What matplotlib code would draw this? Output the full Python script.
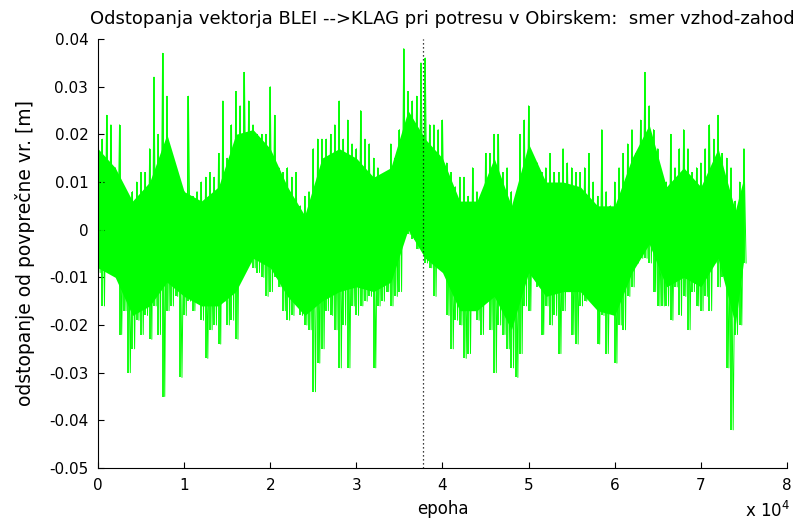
"""
Odstopanja vektorja BLEI -> KLAG (vzhod-zahod), graf po epohah
"""

import numpy as np
import matplotlib
matplotlib.use('Agg')
import matplotlib.pyplot as plt

# epohe vzorcev (vsakih 500 epoh) ter zgornja/spodnja ovojnica odstopanj v mm
epoha = np.arange(0, 75001, 500)
zgoraj_mm = [26, 19, 24, 22, 13, 22, 7, 6, 8, 10,
             12, 12, 17, 32, 20, 37, 28, 15, 10, 9,
             8, 28, 7, 8, 10, 11, 12, 11, 16, 27,
             15, 22, 29, 26, 33, 27, 22, 20, 20, 20,
             30, 24, 13, 12, 13, 11, 12, 5, 7, 8,
             17, 19, 19, 19, 20, 22, 27, 19, 23, 18,
             17, 25, 19, 18, 15, 13, 10, 9, 18, 15,
             21, 38, 29, 27, 28, 35, 36, 22, 22, 21,
             23, 14, 12, 9, 11, 11, 7, 13, 8, 7,
             16, 16, 20, 20, 12, 13, 8, 7, 20, 23,
             26, 15, 14, 12, 13, 16, 12, 12, 17, 14,
             13, 12, 12, 13, 16, 10, 7, 21, 8, 5,
             10, 13, 16, 18, 21, 16, 23, 33, 26, 21,
             17, 10, 10, 20, 13, 17, 21, 17, 12, 13,
             14, 17, 22, 19, 24, 16, 15, 13, 6, 10, 17]
spodaj_mm = [-9, -16, -8, -7, -10, -22, -17, -30, -25, -19,
             -22, -18, -23, -16, -22, -35, -17, -16, -14, -31,
             -18, -15, -17, -14, -19, -27, -21, -20, -24, -15,
             -20, -19, -23, -10, -8, -7, -8, -9, -10, -14,
             -13, -10, -12, -17, -19, -18, -14, -18, -20, -21,
             -34, -28, -25, -17, -18, -21, -29, -20, -29, -16,
             -18, -16, -15, -14, -29, -16, -15, -13, -16, -14,
             -13, -1, -1, -2, -4, 3, -7, -8, -14, -5,
             -8, -18, -25, -19, -20, -27, -26, -16, -19, -22,
             -13, -21, -30, -20, -22, -25, -29, -31, -26, -16,
             -17, -8, -12, -22, -16, -20, -18, -26, -17, -9,
             -22, -24, -16, -15, -14, -13, -24, -18, -26, -15,
             -28, -20, -21, -14, -12, -7, -6, -6, -7, -13,
             -16, -16, -16, -19, -12, -18, -14, -21, -13, -16,
             -17, -14, -17, -7, -12, -10, -29, -42, -22, -20, -7]

# gosto jedro signala (vsakih 2000 epoh), v mm
jedro_ep = [0, 2000, 4000, 6000, 8000, 10000, 12000, 14000, 16000, 18000,
            20000, 22000, 24000, 26000, 28000, 30000, 32000, 34000, 36000, 38000,
            40000, 42000, 44000, 46000, 48000, 50000, 52000, 54000, 56000, 58000,
            60000, 62000, 64000, 66000, 68000, 70000, 72000, 74000, 75000]
jedro_zg = [17, 13, 6, 10, 20, 8, 6, 9, 20, 21,
            17, 9, 3, 15, 17, 15, 11, 13, 25, 19,
            15, 6, 6, 15, 5, 18, 10, 10, 9, 5,
            5, 15, 22, 9, 13, 9, 17, 4, 11]
jedro_sp = [-8, -10, -18, -16, -11, -14, -16, -16, -13, -6,
            -8, -14, -18, -15, -13, -12, -13, -11, 0, -6,
            -9, -17, -17, -14, -21, -9, -14, -13, -13, -17,
            -18, -9, -3, -12, -10, -12, -6, -20, -6]

# epoha potresa (pikcasta navpicnica)
potres = 37750

xtick_val = [0, 10000, 20000, 30000, 40000, 50000, 60000, 70000, 80000]
xtick_lab = ['0', '1', '2', '3', '4', '5', '6', '7', '8']
ytick_val = [0.04, 0.03, 0.02, 0.01, 0.0, -0.01, -0.02, -0.03, -0.04, -0.05]
ytick_lab = ['0.04', '0.03', '0.02', '0.01', '0', '-0.01', '-0.02', '-0.03', '-0.04', '-0.05']

zg = np.array(zgoraj_mm) / 1000.
sp = np.array(spodaj_mm) / 1000.
# cik-cak med zgornjo in spodnjo vrednostjo
x_cc = np.column_stack([epoha, epoha + 250]).ravel()
y_cc = np.column_stack([zg, sp]).ravel()

plt.rcParams['font.family'] = 'DejaVu Sans'
fs = 11
plt.close('all')
fig = plt.figure(figsize=(8.02, 5.23), dpi=100)
ax = fig.add_axes([98/802, 1 - 468/523, (787 - 98)/802, (468 - 39)/523])

clr = '#00ff00'
ax.fill_between(jedro_ep, np.array(jedro_sp) / 1000., np.array(jedro_zg) / 1000.,
                color=clr, lw=0)
ax.plot(x_cc, y_cc, color=clr, lw=0.7)
ax.vlines(epoha, sp, zg, color=clr, lw=1.3)
ax.plot([potres, potres], [-0.05, 0.04], color='k', lw=0.9, linestyle=(0, (1, 2.2)))

ax.set_xlim(0, 80000)
ax.set_ylim(-0.05, 0.04)
ax.set_xticks(xtick_val)
ax.set_xticklabels(xtick_lab, fontsize=fs)
ax.set_yticks(ytick_val)
ax.set_yticklabels(ytick_lab, fontsize=fs)
ax.tick_params(direction='in', length=4, width=0.8, pad=7)
for s in ['top', 'right']:
    ax.spines[s].set_visible(False)
for s in ['left', 'bottom']:
    ax.spines[s].set_linewidth(0.8)

ax.set_title('Odstopanja vektorja BLEI -->KLAG pri potresu v Obirskem:  smer vzhod-zahod',
             fontsize=13, pad=11)
ax.set_xlabel('epoha', fontsize=12, labelpad=5)
ax.set_ylabel('odstopanje od povprečne vr. [m]', fontsize=13.5, labelpad=10)
fig.text(790/802, 2/523, r'x $10^{4}$', ha='right', va='bottom', fontsize=12)

fig.savefig('out.png', dpi=100)
